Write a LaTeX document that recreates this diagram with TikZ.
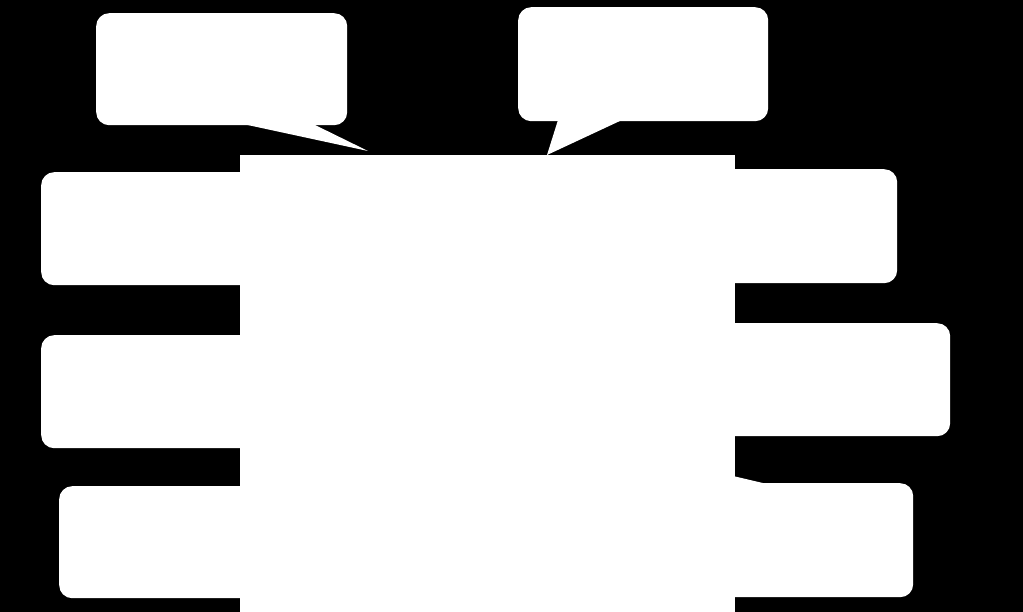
\documentclass[tikz,border=0pt]{standalone}
\begin{document}
\begin{tikzpicture}[x=1pt,y=-1pt,
  bubble/.style={draw=none,fill=white,rounded corners=13pt,rectangle,inner sep=0pt,anchor=north west},
  panel/.style={draw=none,fill=white,rectangle,inner sep=0pt,anchor=north west},
  tail/.style={fill=white,draw=none}]
\fill[black] (0,0) rectangle (1023,612);
\useasboundingbox (0,0) rectangle (1023,612);
% speech bubbles
\node[bubble,minimum width=251pt,minimum height=112pt] (tl) at (96,13) {};
\node[bubble,minimum width=250pt,minimum height=114pt] (tr) at (518,7) {};
\node[bubble,minimum width=219pt,minimum height=113pt] (l1) at (41,172) {};
\node[bubble,minimum width=219pt,minimum height=113pt] (l2) at (41,335) {};
\node[bubble,minimum width=201pt,minimum height=112pt] (l3) at (59,486) {};
\node[bubble,minimum width=182pt,minimum height=114pt] (r1) at (715,169) {};
\node[bubble,minimum width=235pt,minimum height=113pt] (r2) at (715,323) {};
\node[bubble,minimum width=198pt,minimum height=114pt] (r3) at (715,483) {};
% central panel
\node[panel,minimum width=495pt,minimum height=457pt] (c) at (240,155) {};
% tails
\coordinate (tltip) at (368,151);
\coordinate (trtip) at (547,155);
\coordinate (r3tip) at (733,476);
\fill[tail] (243,124) -- (313,124) -- (tltip) -- cycle;
\fill[tail] (558,120) -- (622,120) -- (trtip) -- cycle;
\fill[tail] (767,484) -- (r3tip) -- (730,500) -- cycle;
\end{tikzpicture}
\end{document}
